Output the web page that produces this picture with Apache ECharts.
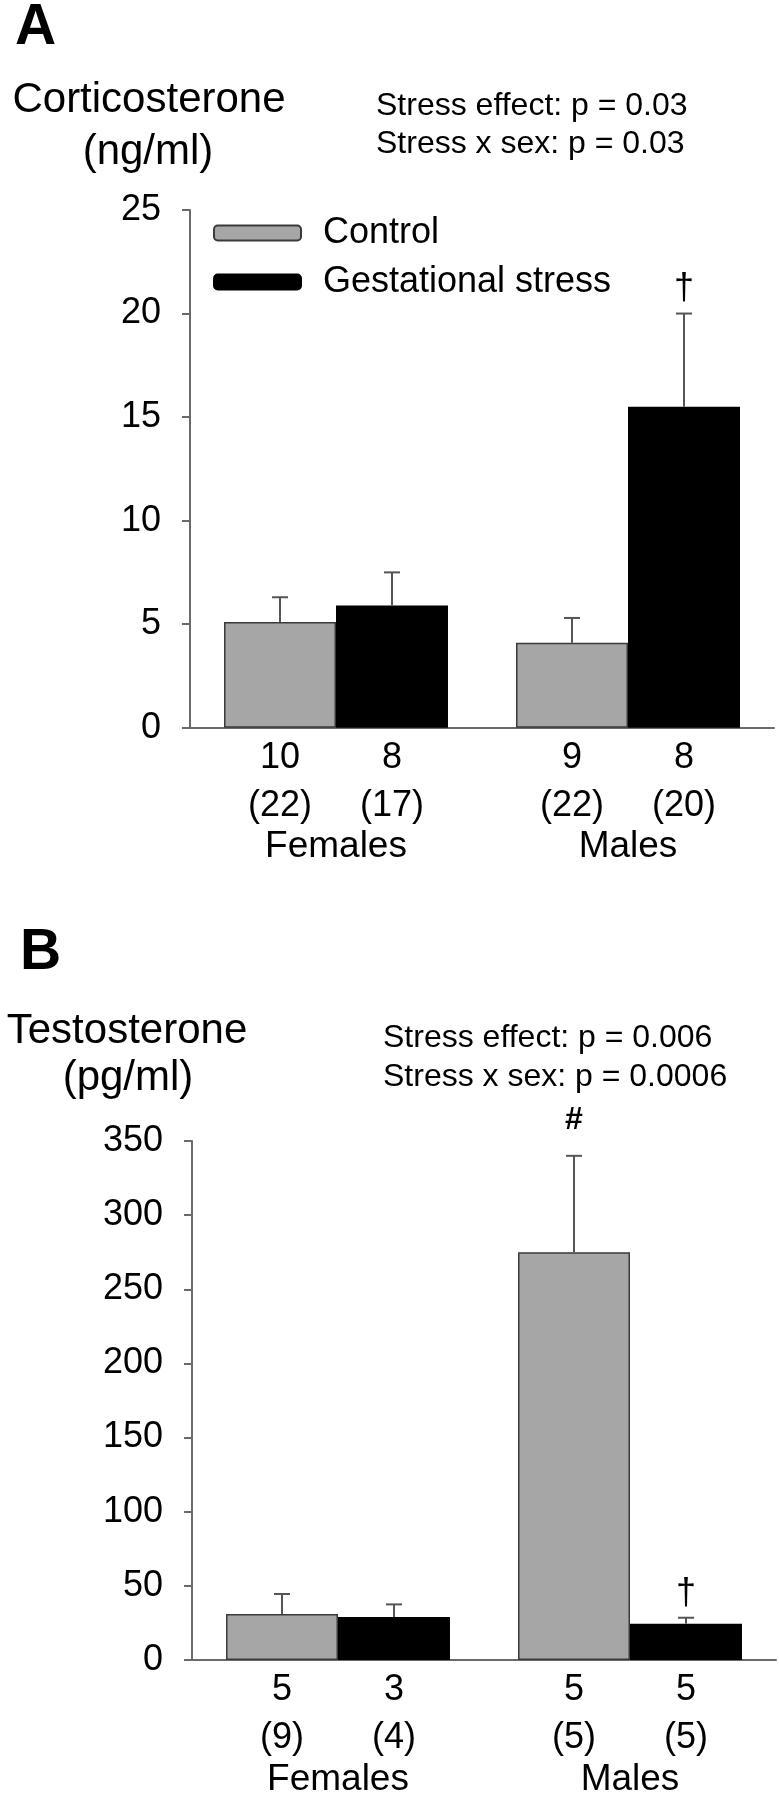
<!DOCTYPE html>
<html><head><meta charset="utf-8">
<script src="https://cdn.jsdelivr.net/npm/echarts@6/dist/echarts.min.js"></script>
<style>html,body{margin:0;padding:0;background:#fff}#c{width:779px;height:1800px}</style>
</head><body><div id="c"></div>
<script>
// ---- data ----
const categories = ['Females', 'Males'];
const seriesNames = ['Control', 'Gestational stress'];
// Panel A: corticosterone (ng/ml)
const cortControl = [5.1, 4.1];
const cortControlErr = [6.3, 5.3];   // top of error bar
const cortStress = [5.9, 15.5];
const cortStressErr = [7.5, 20.0];
const cortNControl = ['10', '9'];
const cortLittersControl = ['22', '22'];
const cortNStress = ['8', '8'];
const cortLittersStress = ['17', '20'];
const cortMarkControl = ['', ''];
const cortMarkStress = ['', '†'];
const cortTicks = [0, 5, 10, 15, 20, 25];
// Panel B: testosterone (pg/ml)
const testControl = [31, 275];
const testControlErr = [44.5, 340];
const testStress = [29, 24.5];
const testStressErr = [37.5, 28.5];
const testNControl = ['5', '5'];
const testLittersControl = ['9', '5'];
const testNStress = ['3', '5'];
const testLittersStress = ['4', '5'];
const testMarkControl = ['', '#'];
const testMarkStress = ['', '†'];
const testTicks = [0, 50, 100, 150, 200, 250, 300, 350];

// ---- styles ----
const FONT = "'Liberation Sans', Arial, Helvetica, sans-serif";
const GRAY = '#a6a6a6';
const AXIS = '#6a6a6a';
const GAP = 0.233;

const chart = echarts.init(document.getElementById('c'), null, {renderer: 'canvas'});

function errSeries(gridIdx, means, tops, sign, marks, markFont) {
  return {
    type: 'custom',
    xAxisIndex: gridIdx, yAxisIndex: gridIdx,
    z: 5,
    silent: true,
    data: means.map((m, i) => [i, m, tops[i], sign]),
    renderItem: function (params, api) {
      const c = api.coord([api.value(0), api.value(1)]);
      const t = api.coord([api.value(0), api.value(2)]);
      const band = api.size([1, 0])[0];
      const bw = band * (1 - GAP) / 2;
      const x = c[0] + api.value(3) * bw / 2;
      const children = [
        {type: 'line', shape: {x1: x, y1: c[1], x2: x, y2: t[1]}, style: {stroke: '#555', lineWidth: 2}},
        {type: 'line', shape: {x1: x - 8, y1: t[1], x2: x + 8, y2: t[1]}, style: {stroke: '#555', lineWidth: 2}}
      ];
      const mk = marks[params.dataIndex];
      if (mk) {
        children.push({type: 'text', style: {text: mk, x: x, y: t[1] - (mk === '#' ? 20 : 6),
          textAlign: 'center', textVerticalAlign: 'bottom', fill: '#000',
          font: markFont(mk)}});
      }
      return {type: 'group', children: children};
    }
  };
}

function barSeries(gridIdx, name, vals, ns, litters, color, border) {
  return {
    type: 'bar', name: name,
    xAxisIndex: gridIdx, yAxisIndex: gridIdx,
    data: vals,
    barGap: '0%', barCategoryGap: (GAP * 100) + '%',
    itemStyle: {color: color, borderColor: border, borderWidth: 1.5},
    label: {
      show: true, position: 'bottom', distance: 6,
      formatter: p => ns[p.dataIndex] + '\n(' + litters[p.dataIndex] + ')',
      fontSize: 36, lineHeight: 48, fontFamily: FONT, color: '#000'
    }
  };
}

const markFont = mk => mk === '#' ? 'bold 32px ' + FONT : '36px ' + FONT;

function yAxis(gridIdx, ticks) {
  return {
    type: 'value', gridIndex: gridIdx,
    min: ticks[0], max: ticks[ticks.length - 1], interval: ticks[1] - ticks[0],
    axisLine: {show: true, lineStyle: {color: AXIS, width: 2}},
    axisTick: {show: true, length: 8, lineStyle: {color: AXIS, width: 2}},
    splitLine: {show: false},
    axisLabel: {fontSize: 36, fontFamily: FONT, color: '#000', margin: 29}
  };
}
function xAxis(gridIdx) {
  return {
    type: 'category', gridIndex: gridIdx, data: categories,
    axisLine: {show: true, lineStyle: {color: AXIS, width: 2}},
    axisTick: {show: false},
    axisLabel: {fontSize: 37, fontFamily: FONT, color: '#000', margin: 101}
  };
}

const textEl = (text, x, y, size, align, weight) => ({
  type: 'text', x: x, y: y,
  style: {text: text, font: (weight || 'normal') + ' ' + size + 'px ' + FONT, fill: '#000',
    textAlign: align || 'left', textVerticalAlign: 'middle'}
});

chart.setOption({
  animation: false,
  grid: [
    {left: 190, right: 5, top: 210, height: 517.7},
    {left: 192, right: 3, top: 1141, height: 519}
  ],
  xAxis: [xAxis(0), xAxis(1)],
  yAxis: [yAxis(0, cortTicks), yAxis(1, testTicks)],
  legend: {
    data: seriesNames, orient: 'vertical', left: 213, top: 215, padding: 0,
    itemWidth: 87, itemHeight: 15, itemGap: 13,
    textStyle: {fontSize: 36, fontFamily: FONT, color: '#000', padding: [0, 0, 0, 17]}
  },
  series: [
    barSeries(0, seriesNames[0], cortControl, cortNControl, cortLittersControl, GRAY, '#3a3a3a'),
    barSeries(0, seriesNames[1], cortStress, cortNStress, cortLittersStress, '#000', '#000'),
    errSeries(0, cortControl, cortControlErr, -1, cortMarkControl, markFont),
    errSeries(0, cortStress, cortStressErr, 1, cortMarkStress, markFont),
    barSeries(1, seriesNames[0], testControl, testNControl, testLittersControl, GRAY, '#3a3a3a'),
    barSeries(1, seriesNames[1], testStress, testNStress, testLittersStress, '#000', '#000'),
    errSeries(1, testControl, testControlErr, -1, testMarkControl, markFont),
    errSeries(1, testStress, testStressErr, 1, testMarkStress, markFont)
  ],
  graphic: [
    textEl('A', 15, 28, 57, 'left', 'bold'),
    textEl('Corticosterone', 149, 100, 42, 'center'),
    textEl('(ng/ml)', 148, 152, 42, 'center'),
    textEl('Stress effect: p = 0.03', 376, 106, 32, 'left'),
    textEl('Stress x sex: p = 0.03', 376, 144, 32, 'left'),
    textEl('B', 20, 953, 57, 'left', 'bold'),
    textEl('Testosterone', 127, 1031, 42, 'center'),
    textEl('(pg/ml)', 128, 1078, 42, 'center'),
    textEl('Stress effect: p = 0.006', 383, 1038, 32, 'left'),
    textEl('Stress x sex: p = 0.0006', 383, 1077, 32, 'left')
  ]
});
</script></body></html>
